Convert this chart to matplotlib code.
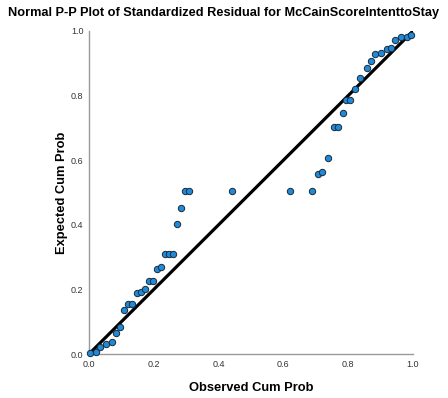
import matplotlib
matplotlib.use("Agg")
import matplotlib.pyplot as plt

observed = [0.003, 0.022, 0.034, 0.052, 0.072, 0.084, 0.097, 0.109, 0.121, 0.134,
            0.147, 0.160, 0.172, 0.184, 0.197, 0.209, 0.221, 0.234, 0.246, 0.259,
            0.272, 0.284, 0.296, 0.309, 0.440, 0.620, 0.688, 0.707, 0.720, 0.739,
            0.756, 0.770, 0.783, 0.794, 0.807, 0.820, 0.837, 0.857, 0.869, 0.882,
            0.901, 0.919, 0.931, 0.944, 0.963, 0.982, 0.995]
expected = [0.002, 0.007, 0.023, 0.030, 0.038, 0.064, 0.083, 0.136, 0.156, 0.156,
            0.188, 0.193, 0.200, 0.225, 0.225, 0.264, 0.270, 0.309, 0.309, 0.309,
            0.403, 0.453, 0.505, 0.505, 0.505, 0.505, 0.505, 0.556, 0.563, 0.607,
            0.702, 0.702, 0.745, 0.785, 0.785, 0.821, 0.854, 0.886, 0.907, 0.929,
            0.931, 0.945, 0.946, 0.971, 0.980, 0.982, 0.987]
ref_line = [0.0, 1.0]
ticks = [0.0, 0.2, 0.4, 0.6, 0.8, 1.0]

plt.rcParams['font.family'] = ['Liberation Sans', 'DejaVu Sans']

fig = plt.figure(figsize=(4.48, 3.98), dpi=100)
ax = fig.add_axes([89/448, 1-354/398, 324/448, 323/398])

ax.plot(ref_line, ref_line, color='black', lw=2.3, zorder=2)
ax.scatter(observed, expected, s=21, facecolor='#1e8ad8', edgecolor='#1a2a3a',
           linewidth=0.7, zorder=3, clip_on=False)

ax.set_xlim(0, 1)
ax.set_ylim(0, 1)
ax.set_xticks(ticks)
ax.set_yticks(ticks)
ax.set_xticklabels([f"{t:.1f}" for t in ticks])
ax.set_yticklabels([f"{t:.1f}" for t in ticks])
ax.tick_params(length=0, labelsize=6.5, colors='#333333', pad=4)
for s in ['top', 'right']:
    ax.spines[s].set_visible(False)
for s in ['left', 'bottom']:
    ax.spines[s].set_color('#999999')
    ax.spines[s].set_linewidth(1.0)

ax.set_xlabel('Observed Cum Prob', fontsize=9.3, fontweight='bold', labelpad=10)
ax.set_ylabel('Expected Cum Prob', fontsize=9.3, fontweight='bold', labelpad=2)
fig.text(0.5, 1-13/398, 'Normal P-P Plot of Standardized Residual for McCainScoreIntenttoStay',
         ha='center', va='center', fontsize=9.2, fontweight='bold')

fig.savefig('out.png', dpi=100)
